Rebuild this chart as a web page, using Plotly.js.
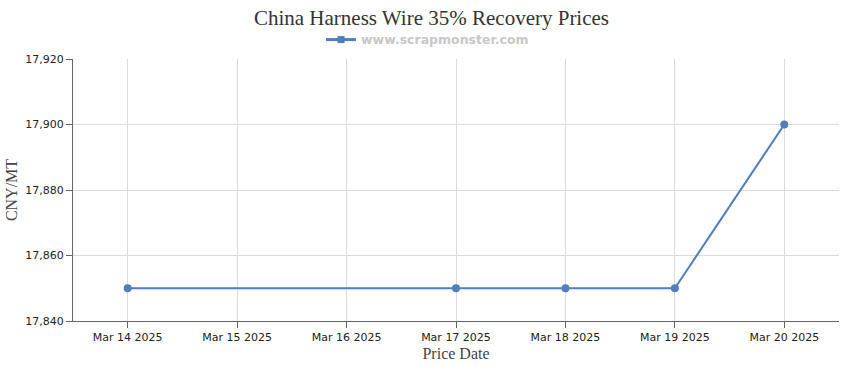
<!DOCTYPE html>
<html>
<head>
<meta charset="utf-8">
<script src="https://cdn.plot.ly/plotly-3.0.1.min.js"></script>
<style>html,body{margin:0;padding:0;background:#fff;}#chart{width:850px;height:370px;}</style>
</head>
<body>
<div id="chart"></div>
<script>
const dates = ["2025-03-14", "2025-03-17", "2025-03-18", "2025-03-19", "2025-03-20"];
const prices = [17850, 17850, 17850, 17850, 17900];
const tickDates = ["2025-03-14", "2025-03-15", "2025-03-16", "2025-03-17", "2025-03-18", "2025-03-19", "2025-03-20"];
const tickLabels = ["Mar 14 2025", "Mar 15 2025", "Mar 16 2025", "Mar 17 2025", "Mar 18 2025", "Mar 19 2025", "Mar 20 2025"];
const yTicks = [17840, 17860, 17880, 17900, 17920];
const seriesName = "www.scrapmonster.com";
const lineColor = "#4f7fbc";

const trace = {
  x: dates, y: prices, type: "scatter", mode: "lines+markers",
  name: seriesName, showlegend: false,
  line: {color: lineColor, width: 2},
  marker: {color: lineColor, size: 8}
};
const legendEntry = {
  x: [null], y: [null], type: "scatter", mode: "lines+markers",
  name: seriesName, showlegend: true,
  line: {color: lineColor, width: 3},
  marker: {color: lineColor, size: 7, symbol: "square"}
};

const layout = {
  width: 850, height: 370,
  margin: {l: 73, r: 11, t: 59, b: 49},
  paper_bgcolor: "#fff", plot_bgcolor: "#fff",
  title: {text: "China Harness Wire 35% Recovery Prices", xref: "paper", x: 0.468, xanchor: "center", y: 0.953, yanchor: "middle",
    font: {family: "Liberation Serif, Times New Roman, serif", size: 21, color: "#333"}},
  showlegend: true,
  legend: {orientation: "h", xref: "container", yref: "container", x: 0.503, xanchor: "center", y: 0.892, yanchor: "middle",
    font: {family: "DejaVu Sans, Verdana, sans-serif", size: 12.5, color: "#c8c8c8", weight: "bold"},
    itemwidth: 30},
  xaxis: {
    type: "date",
    range: ["2025-03-13 12:00", "2025-03-20 12:00"],
    tickvals: tickDates, ticktext: tickLabels,
    showgrid: true, gridcolor: "#dcdcdc", gridwidth: 1,
    showline: true, linecolor: "#666", linewidth: 1,
    ticks: "outside", ticklen: 6, tickcolor: "#666",
    tickfont: {family: "DejaVu Sans, Tahoma, sans-serif", size: 11, color: "#222"},
    title: {text: "Price Date", standoff: 4, font: {family: "Liberation Serif, Times New Roman, serif", size: 16, color: "#444"}},
    zeroline: false, fixedrange: true
  },
  yaxis: {
    range: [17840, 17920],
    tickvals: yTicks, tickformat: ",d",
    showgrid: true, gridcolor: "#dcdcdc", gridwidth: 1,
    showline: true, linecolor: "#666", linewidth: 1,
    ticks: "outside", ticklen: 6, tickcolor: "#666",
    tickfont: {family: "DejaVu Sans, Tahoma, sans-serif", size: 11, color: "#222"},
    title: {text: "CNY/MT", standoff: 3, font: {family: "Liberation Serif, Times New Roman, serif", size: 16, color: "#444"}},
    zeroline: false, fixedrange: true
  }
};

Plotly.newPlot("chart", [trace, legendEntry], layout, {displayModeBar: false, staticPlot: true});
</script>
</body>
</html>
